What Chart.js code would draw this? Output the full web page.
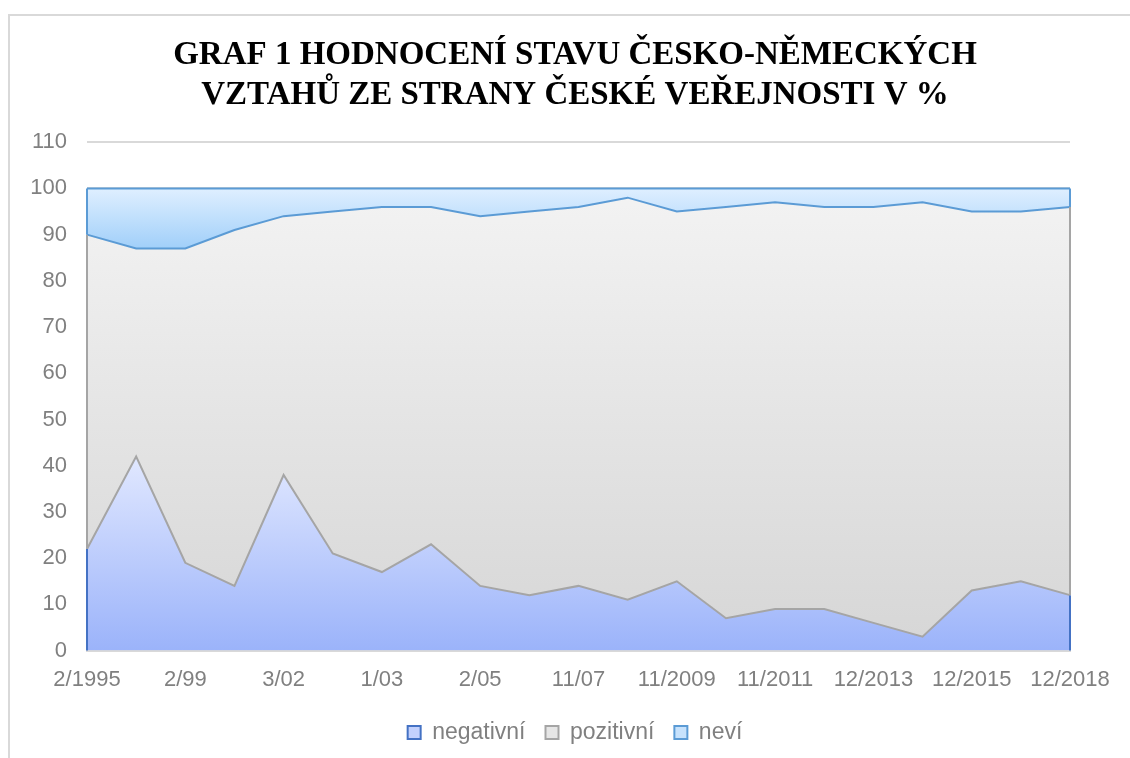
<!DOCTYPE html>
<html>
<head>
<meta charset="utf-8">
<script src="https://cdn.jsdelivr.net/npm/chart.js@4"></script>
<style>
  html, body { margin: 0; padding: 0; background: #fff; }
  #frame {
    position: absolute; left: 8px; top: 14px; width: 1200px; height: 800px;
    border-left: 2px solid #d9d9d9; border-top: 2px solid #d9d9d9;
  }
  #wrap { position: absolute; left: 0; top: 0; width: 1130px; height: 758px; }
</style>
</head>
<body>
<div id="frame"></div>
<div id="wrap"><canvas id="chart"></canvas></div>
<script>
// survey dates (only every other one is labelled on the axis)
const labels = ["2/1995", "3/97", "2/99", "5/00", "3/02", "10/02", "1/03", "2/04", "2/05", "3/06",
  "11/07", "11/08", "11/2009", "11/2010", "11/2011", "11/2012", "12/2013", "12/2014",
  "12/2015", "12/2016", "12/2018"];
const negativni = [22, 42, 19, 14, 38, 21, 17, 23, 14, 12, 14, 11, 15, 7, 9, 9, 6, 3, 13, 15, 12];
const pozitivni = [68, 45, 68, 77, 56, 74, 79, 73, 80, 83, 82, 87, 80, 89, 88, 87, 90, 94, 82, 80, 84];
const nevi = [10, 13, 13, 9, 6, 5, 4, 4, 6, 5, 4, 2, 5, 4, 3, 4, 4, 3, 5, 5, 4];
const seriesNames = ["negativní", "pozitivní", "neví"];

const axisGray = "#808080";
const lineBlue = "#4472C4";
const lineGray = "#A5A5A5";
const lineSky = "#5B9BD5";

// vertical gradient spanning the area from its highest point down to the bottom of the stack
function areaGradient(ctx, stops, topValue, bottomValue) {
  const chart = ctx.chart;
  const y = chart.scales.y;
  if (!chart.chartArea || !y) return stops[stops.length - 1];
  const g = chart.ctx.createLinearGradient(0, y.getPixelForValue(topValue), 0, y.getPixelForValue(bottomValue));
  g.addColorStop(0, stops[0]);
  g.addColorStop(1, stops[1]);
  return g;
}

const tops = negativni.map((v, i) => v + pozitivni[i]);

// draws the left/right edges of each area, like the outlines in the original
const edgePlugin = {
  id: "edges",
  afterDatasetsDraw(chart) {
    const { ctx, scales: { x, y } } = chart;
    const last = labels.length - 1;
    [0, last].forEach(i => {
      const px = x.getPixelForValue(i);
      const parts = [
        [0, negativni[i], lineBlue],
        [negativni[i], tops[i], lineGray],
        [tops[i], 100, lineSky]
      ];
      parts.forEach(([a, b, c]) => {
        ctx.save();
        ctx.strokeStyle = c;
        ctx.lineWidth = 2;
        ctx.beginPath();
        ctx.moveTo(px, y.getPixelForValue(a));
        ctx.lineTo(px, y.getPixelForValue(b));
        ctx.stroke();
        ctx.restore();
      });
    });
  }
};

const legendBoxes = [
  { fill: "#c3d1fd", stroke: lineBlue },
  { fill: "#e6e6e6", stroke: lineGray },
  { fill: "#c7e2fc", stroke: lineSky }
];

new Chart(document.getElementById("chart"), {
  type: "line",
  data: {
    labels,
    datasets: [
      {
        label: seriesNames[0],
        data: negativni,
        fill: "origin",
        borderColor: lineGray,
        borderWidth: 2,
        backgroundColor: ctx => areaGradient(ctx, ["#e1e8ff", "#9bb3fa"], Math.max(...negativni), 0),
        pointRadius: 0,
        tension: 0
      },
      {
        label: seriesNames[1],
        data: pozitivni,
        fill: "-1",
        borderColor: lineSky,
        borderWidth: 2,
        backgroundColor: ctx => areaGradient(ctx, ["#f3f3f3", "#d6d6d6"], 100, 0),
        pointRadius: 0,
        tension: 0
      },
      {
        label: seriesNames[2],
        data: nevi,
        fill: "-1",
        borderColor: lineSky,
        borderWidth: 2,
        backgroundColor: ctx => areaGradient(ctx, ["#dfefff", "#9ccdf9"], 100, 86),
        pointRadius: 0,
        tension: 0
      }
    ]
  },
  options: {
    responsive: true,
    maintainAspectRatio: false,
    animation: false,
    layout: { padding: { left: 20, right: 0, top: 20, bottom: 4 } },
    scales: {
      x: {
        offset: false,
        grid: { display: false },
        border: { display: true, color: "#d9d9d9", width: 2 },
        ticks: {
          autoSkip: false,
          maxRotation: 0,
          padding: 8,
          color: axisGray,
          font: { family: "Liberation Sans", size: 22 },
          callback: (v, i) => (i % 2 === 0 ? labels[i] : "")
        }
      },
      y: {
        stacked: true,
        min: 0,
        max: 110,
        afterFit: s => { s.width = 67; },
        ticks: {
          stepSize: 10,
          padding: 20,
          color: axisGray,
          font: { family: "Liberation Sans", size: 22 }
        },
        grid: { color: "#d9d9d9", lineWidth: 2, drawTicks: false },
        border: { display: false }
      },
      // empty spacer on the right so the plot ends where the original does
      spacer: {
        position: "right",
        afterFit: s => { s.width = 60; },
        grid: { display: false },
        border: { display: false },
        ticks: { display: false }
      }
    },
    plugins: {
      title: {
        display: true,
        text: ["GRAF 1 HODNOCENÍ STAVU ČESKO-NĚMECKÝCH", "VZTAHŮ ZE STRANY ČESKÉ VEŘEJNOSTI V %"],
        color: "#000",
        font: { family: "Liberation Serif", size: 33, weight: "bold", lineHeight: 1.2 },
        padding: { top: 16, bottom: 27 }
      },
      legend: {
        position: "bottom",
        labels: {
          color: axisGray,
          font: { family: "Liberation Sans", size: 23 },
          boxWidth: 13,
          boxHeight: 13,
          padding: 20,
          generateLabels: chart => chart.data.datasets.map((ds, i) => ({
            text: ds.label,
            fillStyle: legendBoxes[i].fill,
            strokeStyle: legendBoxes[i].stroke,
            lineWidth: 2,
            fontColor: axisGray,
            datasetIndex: i
          }))
        }
      },
      tooltip: { enabled: false }
    }
  },
  plugins: [edgePlugin]
});
</script>
</body>
</html>
